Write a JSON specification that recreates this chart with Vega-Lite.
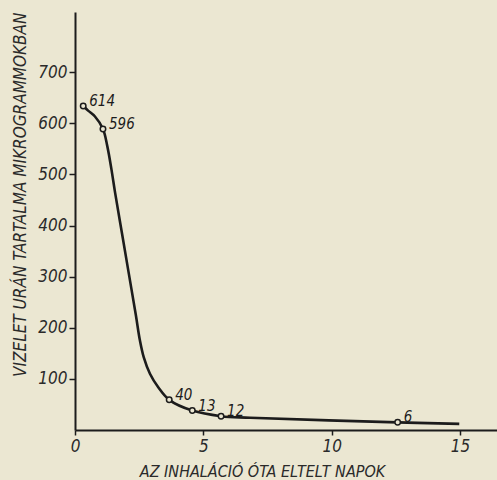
{
  "$schema": "https://vega.github.io/schema/vega-lite/v6.json",
  "width": 422,
  "height": 418,
  "autosize": "none",
  "padding": {"left": 75, "top": 12, "right": 0, "bottom": 50},
  "background": "#ebe7d2",
  "config": {
    "view": {"stroke": null},
    "font": "Liberation Sans Narrow, DejaVu Sans Condensed, DejaVu Sans"
  },
  "data": {
    "values": [
      {"day": 0.32, "value": 634, "label": "614"},
      {"day": 0.51, "value": 625, "label": null},
      {"day": 0.77, "value": 614, "label": null},
      {"day": 1.09, "value": 589, "label": "596"},
      {"day": 1.26, "value": 555, "label": null},
      {"day": 1.42, "value": 510, "label": null},
      {"day": 1.56, "value": 465, "label": null},
      {"day": 1.83, "value": 385, "label": null},
      {"day": 2.10, "value": 305, "label": null},
      {"day": 2.37, "value": 225, "label": null},
      {"day": 2.53, "value": 175, "label": null},
      {"day": 2.68, "value": 142, "label": null},
      {"day": 2.92, "value": 110, "label": null},
      {"day": 3.25, "value": 83, "label": null},
      {"day": 3.67, "value": 59, "label": "40"},
      {"day": 4.57, "value": 38, "label": "13"},
      {"day": 5.69, "value": 27, "label": "12"},
      {"day": 6.82, "value": 24, "label": null},
      {"day": 12.57, "value": 15, "label": "6"},
      {"day": 14.97, "value": 12, "label": null}
    ]
  },
  "encoding": {
    "x": {
      "field": "day",
      "type": "quantitative",
      "scale": {"domain": [0, 16.44], "nice": false, "zero": false},
      "axis": {
        "values": [0, 5, 10, 15],
        "grid": false,
        "labelFlush": false,
        "domainColor": "#1c1c1c",
        "domainWidth": 2,
        "tickColor": "#1c1c1c",
        "tickWidth": 1.5,
        "tickSize": 5,
        "labelPadding": 3,
        "labelFontSize": 17,
        "labelFontStyle": "italic",
        "labelColor": "#2a2a2a",
        "title": "AZ INHALÁCIÓ ÓTA ELTELT NAPOK",
        "titleFontSize": 16,
        "titleFontStyle": "italic",
        "titleFontWeight": "normal",
        "titleColor": "#2a2a2a",
        "titleBaseline": "alphabetic",
        "titleX": 187,
        "titleY": 46
      }
    },
    "y": {
      "field": "value",
      "type": "quantitative",
      "scale": {"domain": [0, 818], "nice": false},
      "axis": {
        "values": [100, 200, 300, 400, 500, 600, 700],
        "grid": false,
        "domainColor": "#1c1c1c",
        "domainWidth": 2,
        "tickColor": "#1c1c1c",
        "tickWidth": 1.5,
        "tickSize": 6,
        "labelPadding": 2,
        "labelFontSize": 17,
        "labelFontStyle": "italic",
        "labelColor": "#2a2a2a",
        "title": "VIZELET URÁN TARTALMA MIKROGRAMMOKBAN",
        "titleFontSize": 17,
        "titleFontStyle": "italic",
        "titleFontWeight": "normal",
        "titleColor": "#2a2a2a",
        "titleAnchor": "end",
        "titleBaseline": "alphabetic",
        "titleX": -50
      }
    }
  },
  "layer": [
    {
      "mark": {"type": "line", "interpolate": "catmull-rom", "color": "#1c1c1c", "strokeWidth": 2.6}
    },
    {
      "transform": [{"filter": "datum.label != null"}],
      "mark": {"type": "point", "shape": "circle", "filled": true, "fill": "#ebe7d2", "stroke": "#1c1c1c", "strokeWidth": 1.5, "size": 30, "opacity": 1}
    },
    {
      "transform": [{"filter": "datum.label != null"}],
      "mark": {"type": "text", "align": "left", "baseline": "middle", "dx": 6, "dy": -5, "fontSize": 15, "fontStyle": "italic", "color": "#1c1c1c"},
      "encoding": {"text": {"field": "label"}}
    }
  ]
}
